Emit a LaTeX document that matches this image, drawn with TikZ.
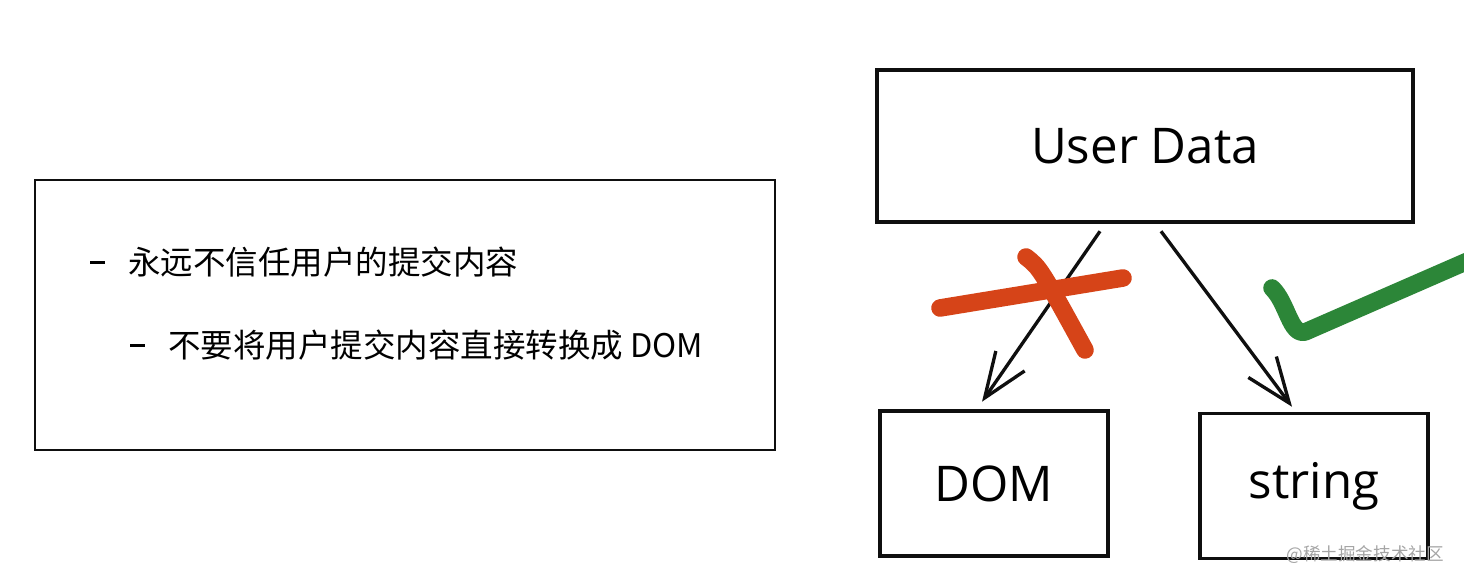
\documentclass[tikz,border=0pt]{standalone}
\usepackage{fontspec}
\setmainfont{Open Sans}
\newfontfamily\cjk{Noto Sans CJK SC}
\usetikzlibrary{arrows.meta,positioning}
\definecolor{ink}{RGB}{15,15,15}
\definecolor{cross}{RGB}{214,68,24}
\definecolor{tick}{RGB}{44,134,56}
\definecolor{wmgray}{RGB}{165,165,165}
\newcommand{\bul}{\rule[0.33em]{0.46em}{0.09em}\hspace{0.7em}}
\tikzset{
  >={Straight Barb[length=9mm,width=7mm]},
  note/.style={draw=ink,line width=1.1pt,minimum width=148mm,minimum height=54mm},
  sketchbox/.style={draw=ink,line width=2pt,minimum width=#1,minimum height=29mm,
    font=\fontsize{28}{32}\selectfont},
  sketchbox/.default=45.6mm,
  rule/.style={font=\cjk\fontsize{18.5}{22}\selectfont,anchor=west,inner sep=0pt},
  flow/.style={->,draw=ink,line width=1.9pt},
  pen/.style={draw=#1,line width=10pt,line cap=round,line join=round},
  pen/.default=cross,
}
\begin{document}
\begin{tikzpicture}
  \useasboundingbox (0,0) rectangle (29.28,11.76);
  % notes
  \node[note] (notes) at (8.10,5.46) {};
  \node[rule] (rule1) at (1.80,6.52) {\bul 永远不信任用户的提交内容};
  \node[rule] (rule2) at (2.60,4.86) {\bul 不要将用户提交内容直接转换成 DOM};
  % data flow
  \node[sketchbox=107.2mm,minimum height=30.4mm] (user) at (22.90,8.84) {User Data};
  \node[sketchbox] (dom) at (19.88,2.09) {DOM};
  \node[sketchbox] (str) at (26.28,2.04) {string};
  \draw[flow] ([xshift=-9mm,yshift=-1.5mm]user.south) -- ([xshift=-2.4mm,yshift=1.5mm]dom.north);
  \draw[flow] ([xshift=3.2mm,yshift=-1.5mm]user.south) -- ([xshift=-4.4mm,yshift=1mm]str.north);
  % marks
  \draw[pen] (18.80,5.60) -- (22.46,6.20);
  \draw[pen] (20.52,6.62) .. controls (20.80,6.40) .. (21.70,4.76);
  \draw[pen=tick] (25.44,6.00) .. controls (25.75,5.70) and (25.80,5.05) .. (26.10,5.12) -- (29.40,6.56);
  \node[text=wmgray,font=\cjk\fontsize{10}{12}\selectfont,anchor=east] (wm) at (29.0,0.66) {@稀土掘金技术社区};
\end{tikzpicture}
\end{document}
